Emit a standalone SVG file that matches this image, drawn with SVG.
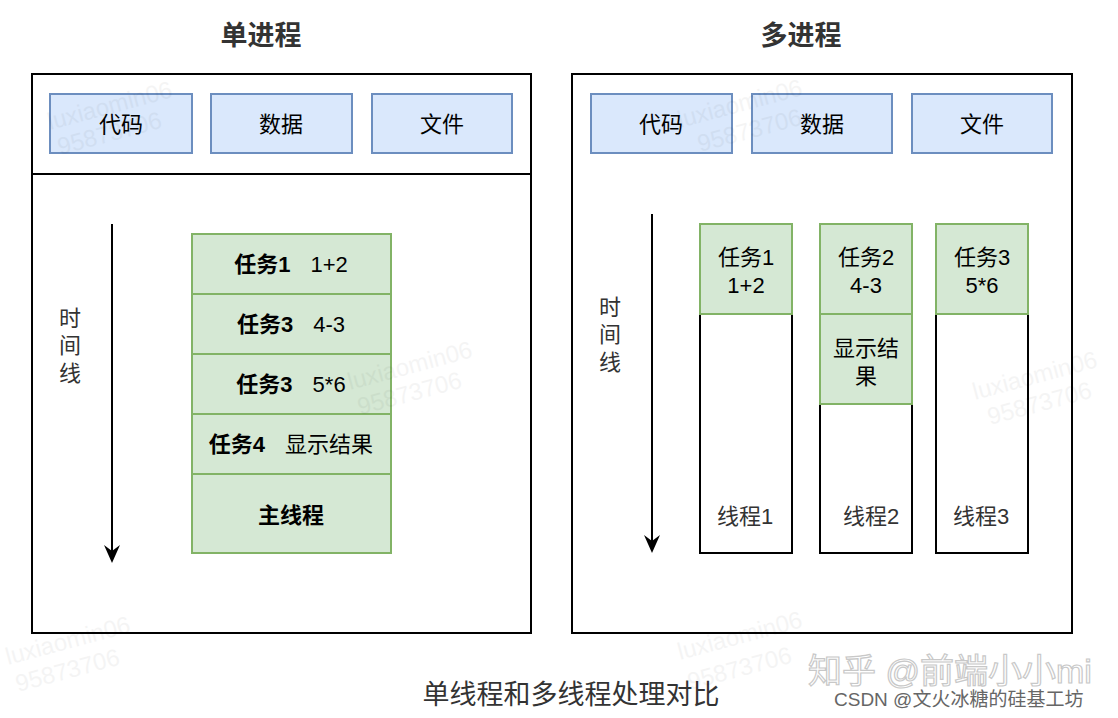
<svg xmlns="http://www.w3.org/2000/svg" width="1118" height="718" viewBox="0 0 1118 718">
<defs>
<style>
text{font-family:"Liberation Sans","Noto Sans CJK SC",sans-serif;fill:#000}
.t{font-size:22px;text-anchor:middle}
.b{font-weight:bold}
.title{font-size:27px;fill:#333;text-anchor:middle;font-weight:bold}
.cap{font-size:27px;fill:#333;text-anchor:middle}
.gray{fill:#333}
.blue{fill:#dae8fc;stroke:#6c8ebf;stroke-width:2}
.green{fill:#d5e8d4;stroke:#82b366;stroke-width:2}
.frame{fill:#fff;stroke:#000;stroke-width:2}
.wm{font-size:24px;fill:#000;opacity:0.04}
</style>
<marker id="ah" viewBox="0 0 16 18" refX="8" refY="17" markerWidth="16" markerHeight="18" orient="auto-start-reverse" markerUnits="userSpaceOnUse"><path d="M0,0 L8,6 L16,0 L8,18 z" fill="#000"/></marker>
</defs>
<rect width="1118" height="718" fill="#fff"/>
<text class="title" x="261" y="45">单进程</text>
<text class="title" x="801" y="45">多进程</text>

<g id="single">
<rect class="frame" x="32" y="74" width="499" height="559"/>
<line x1="32" y1="174" x2="531" y2="174" stroke="#000" stroke-width="2"/>
</g>
<g id="s-code"><rect class="blue" x="50" y="94" width="142" height="59"/><text class="t" x="121" y="132">代码</text></g>
<g id="s-data"><rect class="blue" x="211" y="94" width="141" height="59"/><text class="t" x="281" y="132">数据</text></g>
<g id="s-file"><rect class="blue" x="372" y="94" width="140" height="59"/><text class="t" x="442" y="132">文件</text></g>
<g id="s-time"><text class="t gray" x="70" y="326">时</text><text class="t gray" x="70" y="353">间</text><text class="t gray" x="70" y="381">线</text></g>
<g id="s-task1"><rect class="green" x="192" y="234" width="199" height="60"/><text class="t" x="291" y="272"><tspan class="b">任务1</tspan><tspan dx="20">1+2</tspan></text></g>
<g id="s-task2"><rect class="green" x="192" y="294" width="199" height="60"/><text class="t" x="291" y="332"><tspan class="b">任务3</tspan><tspan dx="20">4-3</tspan></text></g>
<g id="s-task3"><rect class="green" x="192" y="354" width="199" height="60"/><text class="t" x="291" y="392"><tspan class="b">任务3</tspan><tspan dx="20">5*6</tspan></text></g>
<g id="s-task4"><rect class="green" x="192" y="414" width="199" height="60"/><text class="t" x="291" y="452"><tspan class="b">任务4</tspan><tspan dx="20">显示结果</tspan></text></g>
<g id="s-main"><rect class="green" x="192" y="474" width="199" height="79"/><text class="t b" x="291" y="523">主线程</text></g>

<g id="multi"><rect class="frame" x="572" y="74" width="500" height="559"/></g>
<g id="m-code"><rect class="blue" x="591" y="94" width="141" height="59"/><text class="t" x="661" y="132">代码</text></g>
<g id="m-data"><rect class="blue" x="752" y="94" width="140" height="59"/><text class="t" x="822" y="132">数据</text></g>
<g id="m-file"><rect class="blue" x="912" y="94" width="140" height="59"/><text class="t" x="982" y="132">文件</text></g>
<g id="m-time"><text class="t gray" x="610" y="315">时</text><text class="t gray" x="610" y="342">间</text><text class="t gray" x="610" y="370">线</text></g>
<g id="thread1"><rect class="frame" x="700" y="224" width="92" height="329"/><rect class="green" x="700" y="224" width="92" height="90"/><text class="t" x="746" y="265">任务1</text><text class="t" x="746" y="293">1+2</text><text class="t gray" x="745" y="524">线程1</text></g>
<g id="thread2"><rect class="frame" x="820" y="224" width="92" height="329"/><rect class="green" x="820" y="224" width="92" height="90"/><rect class="green" x="820" y="314" width="92" height="90"/><text class="t" x="866" y="265">任务2</text><text class="t" x="866" y="293">4-3</text><text class="t" x="866" y="356">显示结</text><text class="t" x="866" y="384">果</text><text class="t gray" x="871" y="524">线程2</text></g>
<g id="thread3"><rect class="frame" x="936" y="224" width="92" height="329"/><rect class="green" x="936" y="224" width="92" height="90"/><text class="t" x="982" y="265">任务3</text><text class="t" x="982" y="293">5*6</text><text class="t gray" x="981" y="524">线程3</text></g>

<g id="connectors" stroke="#000" stroke-width="2" fill="none">
<line x1="112" y1="224" x2="112" y2="556"/>
<path d="M104,545 L112,551 L120,545 L112,563 z" fill="#000" stroke="none"/>
<line x1="652" y1="214" x2="652" y2="546"/>
<path d="M644,535 L652,541 L660,535 L652,553 z" fill="#000" stroke="none"/>
</g>

<text class="cap" x="571" y="704">单线程和多线程处理对比</text>

<g id="watermarks">
<text class="wm" transform="translate(50,130) rotate(-15)">luxiaomin06</text>
<text class="wm" transform="translate(60,155) rotate(-15)">95873706</text>
<text class="wm" transform="translate(680,128) rotate(-15)">luxiaomin06</text>
<text class="wm" transform="translate(700,152) rotate(-15)">95873706</text>
<text class="wm" transform="translate(350,390) rotate(-15)">luxiaomin06</text>
<text class="wm" transform="translate(360,415) rotate(-15)">95873706</text>
<text class="wm" transform="translate(975,400) rotate(-15)">luxiaomin06</text>
<text class="wm" transform="translate(990,425) rotate(-15)">95873706</text>
<text class="wm" transform="translate(8,665) rotate(-15)">luxiaomin06</text>
<text class="wm" transform="translate(18,692) rotate(-15)">95873706</text>
<text class="wm" transform="translate(680,660) rotate(-15)">luxiaomin06</text>
<text class="wm" transform="translate(690,690) rotate(-15)">95873706</text>
<text x="808" y="683" style="font-size:34px;fill:#fff;stroke:#c8c8c8;stroke-width:1.2">知乎 @前端小小mi</text>
<text x="834" y="706" style="font-size:19px;fill:#666">CSDN @文火冰糖的硅基工坊</text>
</g>
</svg>
